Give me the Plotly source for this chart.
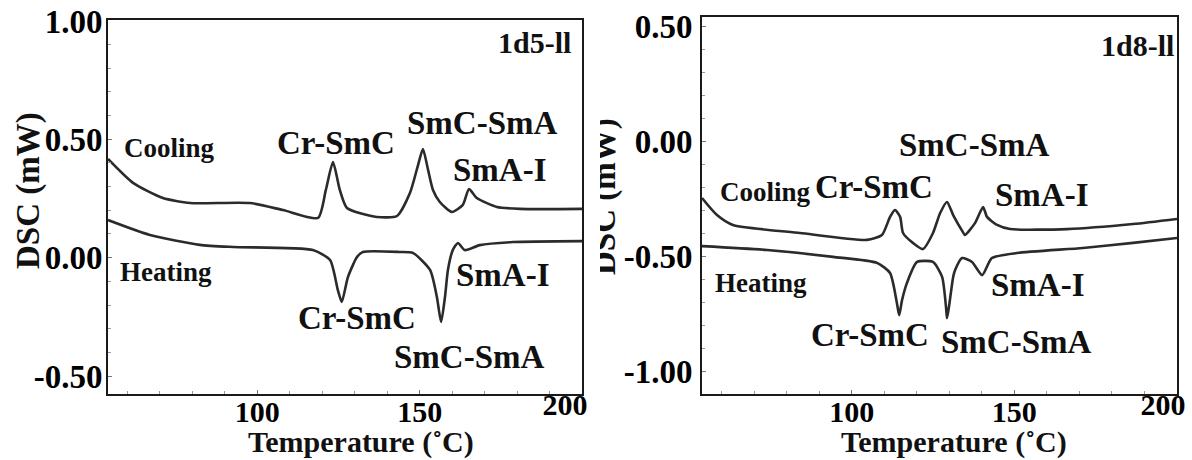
import plotly.graph_objects as go

# ---------------- data ----------------
# Left panel: 1d5-ll
temp_cool_5 = [54.0, 61.7, 70.9, 79.3, 97.7, 107.9, 118.7, 121.1, 123.3, 125.4, 127.6, 136.8,
               143.0, 147.0, 149.5, 151.0, 152.6, 154.1, 156.2, 159.9, 163.3, 165.2, 167.6,
               173.8, 180.9, 200.0]
dsc_cool_5 = [0.417, 0.316, 0.252, 0.231, 0.231, 0.201, 0.168, 0.286, 0.404, 0.286, 0.210, 0.172,
              0.176, 0.273, 0.391, 0.459, 0.370, 0.286, 0.235, 0.193, 0.223, 0.290, 0.252,
              0.214, 0.206, 0.206]
temp_heat_5 = [54.0, 66.9, 82.3, 92.5, 117.1, 122.4, 124.8, 126.0, 127.9, 130.7, 132.5, 143.9,
               147.9, 153.2, 155.3, 156.6, 157.8, 158.7, 160.2, 161.8, 163.9, 168.5, 178.7, 200.0]
dsc_heat_5 = [0.159, 0.096, 0.054, 0.045, 0.032, -0.010, -0.137, -0.187, -0.082, 0.003, 0.024, 0.024,
              0.020, -0.052, -0.166, -0.272, -0.166, -0.052, 0.032, 0.062, 0.032, 0.053, 0.066, 0.070]

# Right panel: 1d8-ll
temp_cool_8 = [54.0, 58.6, 63.5, 84.1, 104.7, 109.3, 111.8, 113.3, 114.9, 115.8, 118.9, 121.9,
               125.0, 127.2, 129.3, 131.2, 134.2, 134.8, 137.9, 140.4, 141.6, 144.7, 148.7,
               166.2, 186.5, 200.0]
dsc_cool_8 = [-0.246, -0.320, -0.363, -0.398, -0.428, -0.407, -0.328, -0.298, -0.328, -0.398, -0.442, -0.468,
              -0.398, -0.311, -0.263, -0.320, -0.394, -0.407, -0.355, -0.285, -0.328, -0.363, -0.381,
              -0.381, -0.359, -0.337]
temp_heat_8 = [54.0, 74.0, 94.3, 107.8, 111.8, 113.9, 114.6, 115.5, 117.0, 120.1, 125.0, 127.8,
               129.0, 129.3, 129.9, 131.2, 131.8, 133.9, 137.0, 140.1, 143.1, 150.8, 171.1, 186.5, 200.0]
dsc_heat_8 = [-0.455, -0.472, -0.502, -0.528, -0.572, -0.702, -0.755, -0.689, -0.615, -0.524, -0.524, -0.589,
              -0.720, -0.768, -0.720, -0.589, -0.559, -0.507, -0.524, -0.581, -0.507, -0.485, -0.463, -0.441, -0.420]

x_tick_vals = [100, 150]
x_end_tick = [200]
y_tick_vals_5 = [-0.5, 0.0, 0.5, 1.0]
y_tick_text_5 = ["-0.50", "0.00", "0.50", "1.00"]
y_tick_vals_8 = [-1.0, -0.5, 0.0, 0.5]
y_tick_text_8 = ["-1.00", "-0.50", "0.00", "0.50"]

x_title = "Temperature (\u02daC)"
y_title = "DSC (mW)"

# label text, x, y  (data coordinates)
labels_5 = [("Cr-SmC", 124.2, 0.484), ("SmC-SmA", 169.2, 0.569), ("SmA-I", 174.7, 0.370),
            ("SmA-I", 175.7, -0.073), ("Cr-SmC", 130.7, -0.255), ("SmC-SmA", 165.5, -0.42)]
labels_8 = [("Cr-SmC", 106.9, -0.198), ("SmC-SmA", 137.9, -0.016), ("SmA-I", 158.5, -0.233),
            ("SmA-I", 157.3, -0.624), ("Cr-SmC", 105.6, -0.842), ("SmC-SmA", 150.8, -0.872)]

# ---------------- figure ----------------
W, H = 1192, 460
FONT = "Liberation Serif"
LINE = "#2b2b2b"

fig = go.Figure()
for xs, ys, xa, ya, nm in [(temp_cool_5, dsc_cool_5, "x", "y", "Cooling"),
                           (temp_heat_5, dsc_heat_5, "x", "y", "Heating"),
                           (temp_cool_8, dsc_cool_8, "x2", "y2", "Cooling"),
                           (temp_heat_8, dsc_heat_8, "x2", "y2", "Heating")]:
    fig.add_trace(go.Scatter(x=xs, y=ys, xaxis=xa, yaxis=ya, mode="lines", name=nm,
                             line=dict(color=LINE, width=2.6, shape="spline", smoothing=0.6),
                             showlegend=False, hoverinfo="skip"))
# empty traces so the overlaid axes carrying the "200" labels get drawn
for xa, ya in [("x3", "y"), ("x4", "y2")]:
    fig.add_trace(go.Scatter(x=[], y=[], xaxis=xa, yaxis=ya, mode="lines",
                             showlegend=False, hoverinfo="skip"))

ytickfont = dict(family=FONT, size=33, color="black", weight="bold")
xtickfont = dict(family=FONT, size=30, color="black", weight="bold")

def xax(domain, anchor):
    return dict(domain=domain, anchor=anchor, range=[54, 200], tickvals=x_tick_vals,
                showline=True, mirror=True, linecolor="#1a1a1a", linewidth=2,
                ticks="inside", ticklen=4, tickcolor="#777", tickfont=xtickfont,
                showgrid=False, zeroline=False, automargin=False, ticklabelstandoff=-10,
                minor=dict(ticks="inside", ticklen=3, tickcolor="#999", dtick=10))

def yax(domain, anchor, rng, vals, texts, standoff):
    return dict(domain=domain, anchor=anchor, range=rng, tickvals=vals, ticktext=texts,
                showline=True, mirror=True, linecolor="#1a1a1a", linewidth=2,
                ticks="inside", ticklen=4, tickcolor="#777", tickfont=ytickfont,
                showgrid=False, zeroline=False, ticklabelstandoff=standoff, automargin=False,
                minor=dict(ticks="inside", ticklen=3, tickcolor="#999", dtick=0.1))

def xend(overlay, anchor, shift):
    return dict(overlaying=overlay, anchor=anchor, side="bottom", range=[54, 200],
                tickvals=x_end_tick, ticks="", showline=False, showgrid=False, zeroline=False,
                tickfont=xtickfont, ticklabelshift=shift, ticklabelstandoff=-10, automargin=False)

fig.update_layout(
    template="none",
    width=W, height=H, margin=dict(l=0, r=0, t=0, b=0, autoexpand=False),
    paper_bgcolor="white", plot_bgcolor="white",
    font=dict(family=FONT, color="black"),
    xaxis=xax([108 / W, 582 / W], "y"),
    yaxis=yax([1 - 394 / H, 1 - 20 / H], "x", [-0.576, 1.004], y_tick_vals_5, y_tick_text_5, -3),
    xaxis2=xax([702 / W, 1177 / W], "y2"),
    yaxis2=yax([1 - 394 / H, 1 - 17 / H], "x2", [-1.098, 0.541], y_tick_vals_8, y_tick_text_8, 1),
    xaxis3=xend("x", "y", -17),
    xaxis4=xend("x2", "y2", -14),
)

ann = []
lab_font = dict(family=FONT, size=33, color="#111", weight="bold")
title_font = dict(family=FONT, size=30, color="#111", weight="bold")
small_font = dict(family=FONT, size=27, color="#111", weight="bold")
tag_font = dict(family=FONT, size=30, color="#111", weight="bold")
for txt, x, y in labels_5:
    ann.append(dict(text=txt, x=x, y=y, xref="x", yref="y", showarrow=False, font=lab_font))
for txt, x, y in labels_8:
    ann.append(dict(text=txt, x=x, y=y, xref="x2", yref="y2", showarrow=False, font=lab_font))
ann += [
    dict(text="Cooling", x=58.3, y=0.463, xref="x", yref="y", xanchor="left", showarrow=False, font=small_font),
    dict(text="Heating", x=57.1, y=-0.061, xref="x", yref="y", xanchor="left", showarrow=False, font=small_font),
    dict(text="Cooling", x=58.9, y=-0.220, xref="x2", yref="y2", xanchor="left", showarrow=False, font=small_font),
    dict(text="Heating", x=57.4, y=-0.616, xref="x2", yref="y2", xanchor="left", showarrow=False, font=small_font),
    dict(text="1d5-ll", x=197.2, y=0.907, xref="x", yref="y", xanchor="right", showarrow=False, font=tag_font),
    dict(text="1d8-ll", x=199.6, y=0.419, xref="x2", yref="y2", xanchor="right", showarrow=False, font=tag_font),
    # axis titles
    dict(text=x_title, x=361 / W, y=0, xref="paper", yref="paper", xanchor="center",
         yanchor="bottom", showarrow=False, font=title_font, borderpad=0),
    dict(text=x_title, x=954 / W, y=0, xref="paper", yref="paper", xanchor="center",
         yanchor="bottom", showarrow=False, font=title_font, borderpad=0),
    dict(text=y_title, x=29 / W, y=1 - 191 / H, xref="paper", yref="paper", xanchor="center",
         yanchor="middle", showarrow=False, textangle=-90, font=lab_font),
    dict(text=y_title, x=604 / W, y=1 - 197 / H, xref="paper", yref="paper", xanchor="center",
         yanchor="middle", showarrow=False, textangle=-90, font=lab_font),
    # white strip: the right panel's y title is cut off at the image seam
    dict(text="", x=592 / W, y=1 - 197 / H, xref="paper", yref="paper", xanchor="center",
         yanchor="middle", showarrow=False, width=16, height=210, bgcolor="white",
         borderpad=0, borderwidth=0),
]
fig.update_layout(annotations=ann)

fig.write_html("out.html")
